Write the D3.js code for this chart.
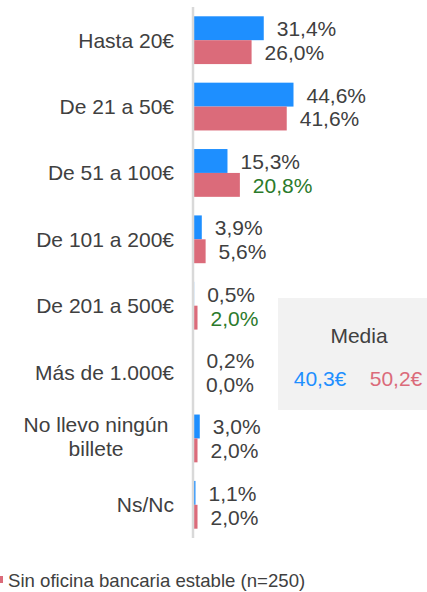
<!DOCTYPE html>
<html>
<head>
<meta charset="utf-8">
<script src="https://cdn.jsdelivr.net/npm/d3@7"></script>
<style>
  body { margin: 0; background: #fff; }
  svg { display: block; font-family: "Liberation Sans", Arial, sans-serif; }
</style>
</head>
<body>
<div class="chart"></div>
<script>
const categories = ['Hasta 20€', 'De 21 a 50€', 'De 51 a 100€', 'De 101 a 200€', 'De 201 a 500€', 'Más de 1.000€', 'No llevo ningún\nbillete', 'Ns/Nc'];
const conOficina = [31.4, 44.6, 15.3, 3.9, 0.5, 0.2, 3.0, 1.1];
const sinOficina = [26.0, 41.6, 20.8, 5.6, 2.0, 0.0, 2.0, 2.0];
// labels shown in green in the original
const sinOficinaHighlight = [false, false, true, false, true, false, false, false];
const mediaValues = ['40,3€', '50,2€'];
const legendLabel = 'Sin oficina bancaria estable (n=250)';

const width = 427, height = 592;
const blue = '#1e8fff', red = '#db6b7a', textColor = '#404040', green = '#2b7a2b';
const fs = 21;
const fmt = v => v.toFixed(1).replace('.', ',') + '%';

let svg = d3.select('.chart')
    .append('svg')
    .attr('width', width)
    .attr('height', height);

let y = d3.scaleBand()
    .domain(categories)
    .range([7, 538])
    .paddingInner(0.28)
    .paddingOuter(0.14);

let x = d3.scaleLinear()
    .domain([0, 44.6])
    .range([193, 293.5]);

let barH = y.bandwidth() / 2;

let rows = categories.map((c, i) => ({cat: c, a: conOficina[i], b: sinOficina[i], hl: sinOficinaHighlight[i]}));

let g = svg.append('g');

// bars
g.selectAll('.barA')
    .data(rows)
    .enter().append('rect')
    .attr('x', x(0))
    .attr('y', d => y(d.cat))
    .attr('width', d => x(d.a) - x(0))
    .attr('height', barH)
    .attr('fill', blue);

g.selectAll('.barB')
    .data(rows)
    .enter().append('rect')
    .attr('x', x(0))
    .attr('y', d => y(d.cat) + barH)
    .attr('width', d => x(d.b) - x(0))
    .attr('height', barH)
    .attr('fill', red);

// value labels
g.selectAll('.lblA')
    .data(rows)
    .enter().append('text')
    .attr('x', d => x(d.a) + 13)
    .attr('y', d => y(d.cat) + barH / 2)
    .attr('dy', '0.38em')
    .attr('font-size', fs)
    .attr('fill', textColor)
    .text(d => fmt(d.a));

g.selectAll('.lblB')
    .data(rows)
    .enter().append('text')
    .attr('x', d => x(d.b) + 13)
    .attr('y', d => y(d.cat) + barH * 1.5)
    .attr('dy', '0.38em')
    .attr('font-size', fs)
    .attr('fill', d => d.hl ? green : textColor)
    .text(d => fmt(d.b));

// axis line, drawn over the bar starts
svg.append('line')
    .attr('x1', 193).attr('x2', 193)
    .attr('y1', 7).attr('y2', 538)
    .attr('stroke', '#d9d9d9')
    .attr('stroke-width', 2.5);

// category labels
let catG = svg.append('g');
rows.forEach(d => {
    let lines = d.cat.split('\n');
    let cy = y(d.cat) + y.bandwidth() / 2;
    let t = catG.append('text')
        .attr('font-size', fs)
        .attr('fill', textColor);
    if (lines.length === 1) {
        t.attr('x', 174).attr('y', cy).attr('dy', '0.36em')
            .attr('text-anchor', 'end').text(lines[0]);
    } else {
        lines.forEach((l, j) => {
            t.append('tspan')
                .attr('x', 96)
                .attr('y', cy - 2 + (j - (lines.length - 1) / 2) * 23.4)
                .attr('dy', '0.36em')
                .attr('text-anchor', 'middle')
                .text(l);
        });
    }
});

// media box
let mg = svg.append('g');
mg.append('rect')
    .attr('x', 278).attr('y', 298)
    .attr('width', width - 278).attr('height', 112)
    .attr('fill', '#f2f2f2');
mg.append('text')
    .attr('x', 359).attr('y', 343)
    .attr('text-anchor', 'middle')
    .attr('font-size', fs)
    .attr('fill', textColor)
    .text('Media');
mg.append('text')
    .attr('x', 320).attr('y', 386)
    .attr('text-anchor', 'middle')
    .attr('font-size', fs)
    .attr('fill', blue)
    .text(mediaValues[0]);
mg.append('text')
    .attr('x', 396).attr('y', 386)
    .attr('text-anchor', 'middle')
    .attr('font-size', fs)
    .attr('fill', red)
    .text(mediaValues[1]);

// legend (clipped at the left edge like the original)
svg.append('rect')
    .attr('x', -4).attr('y', 576)
    .attr('width', 7).attr('height', 7)
    .attr('fill', red);
svg.append('text')
    .attr('x', 8).attr('y', 587)
    .attr('font-size', 18.6)
    .attr('fill', textColor)
    .text(legendLabel);
</script>
</body>
</html>
